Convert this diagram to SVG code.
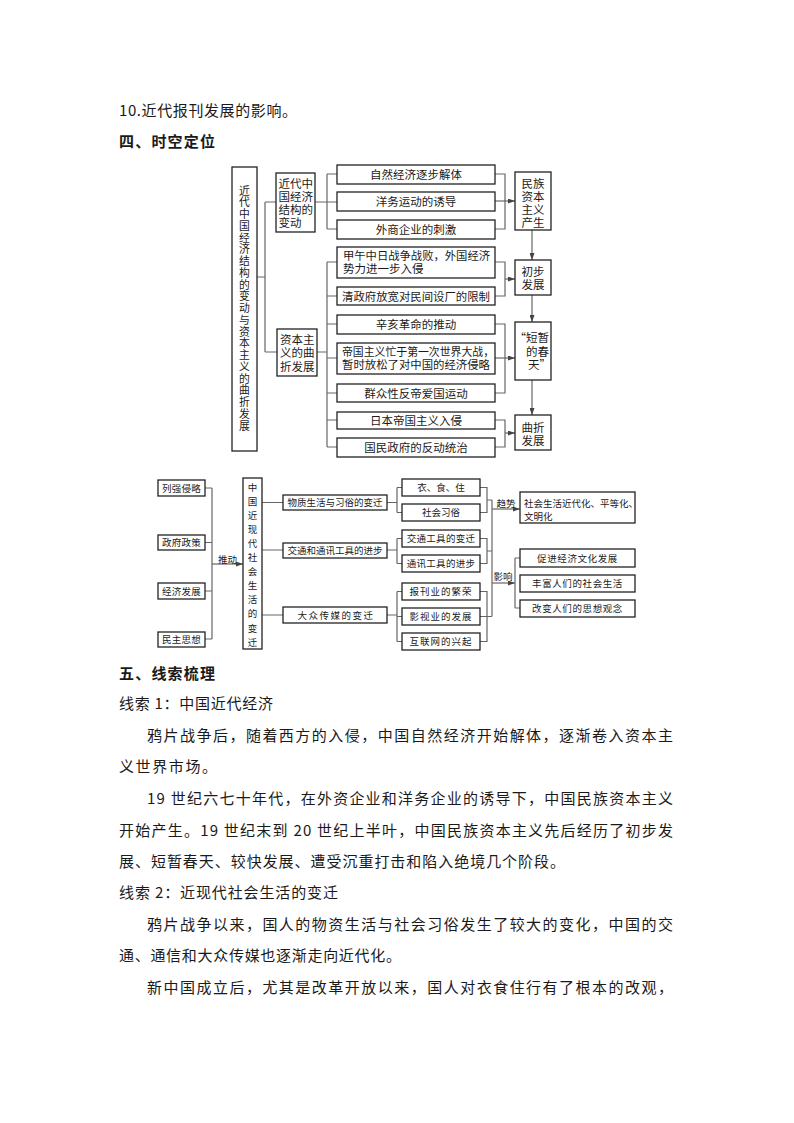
<svg xmlns="http://www.w3.org/2000/svg" width="794" height="1123" viewBox="0 0 794 1123">
<defs>
<style>
.t{font-family:"Noto Sans CJK SC","Noto Sans",sans-serif;fill:#1a1a1a}
.body{font-size:15px}
.h{font-size:15px;font-weight:bold}
.d1{font-size:11.5px}
.dv{font-size:10.8px}
.d2{font-size:9.5px}
.c{text-anchor:middle}
.e{text-anchor:end}
.bx{fill:#fff;stroke:#222;stroke-width:1.3}
.ln{fill:none;stroke:#666;stroke-width:1.2}
</style>
<marker id="ah" markerWidth="7" markerHeight="5" refX="7" refY="2.5" orient="auto" markerUnits="userSpaceOnUse">
<path d="M0,0 L7,2.5 L0,5 z" fill="#444"/>
</marker>
</defs>
<rect width="794" height="1123" fill="#fff"/>

<!-- heading text -->
<text class="t body" x="119" y="116" textLength="178" lengthAdjust="spacing">10.近代报刊发展的影响。</text>
<text class="t h" x="119" y="147" textLength="96" lengthAdjust="spacing">四、时空定位</text>

<!-- ========== Diagram 1 ========== -->
<g id="connectors1">
<path class="ln" d="M257,277 H265 M265,202 V352 M265,202 H276 M265,352 H277"/>
<path class="ln" d="M315,202 H327 M327,174 V229 M327,174 H337 M327,202 H337 M327,229 H337"/>
<path class="ln" d="M317,352 H327 M327,262 V447 M327,262 H337 M327,296 H337 M327,324 H337 M327,358 H337 M327,393 H337 M327,420 H337 M327,447 H337"/>
<path class="ln" d="M495,174 H505 V229 H495"/>
<line class="ln" x1="495" y1="201" x2="515" y2="201" marker-end="url(#ah)"/>
<path class="ln" d="M495,262 H505 V296 H495"/>
<line class="ln" x1="505" y1="279" x2="515" y2="279" marker-end="url(#ah)"/>
<path class="ln" d="M495,324 H505 V393 H495"/>
<line class="ln" x1="495" y1="358" x2="515" y2="358" marker-end="url(#ah)"/>
<path class="ln" d="M495,420 H505 V447 H495"/>
<line class="ln" x1="505" y1="433" x2="515" y2="433" marker-end="url(#ah)"/>
<line class="ln" x1="532" y1="230" x2="532" y2="260" marker-end="url(#ah)"/>
<line class="ln" x1="532" y1="295" x2="532" y2="322" marker-end="url(#ah)"/>
<line class="ln" x1="532" y1="380" x2="532" y2="415" marker-end="url(#ah)"/>
</g>

<g id="n-main">
<rect class="bx" x="232" y="167" width="25" height="284"/>
<g class="t dv c">
<text x="244.5" y="194.5">近</text><text x="244.5" y="206.3">代</text><text x="244.5" y="218">中</text><text x="244.5" y="229.8">国</text><text x="244.5" y="241.5">经</text><text x="244.5" y="253.3">济</text><text x="244.5" y="265">结</text><text x="244.5" y="276.8">构</text><text x="244.5" y="288.5">的</text><text x="244.5" y="300.3">变</text><text x="244.5" y="312">动</text><text x="244.5" y="323.8">与</text><text x="244.5" y="335.5">资</text><text x="244.5" y="347.3">本</text><text x="244.5" y="359">主</text><text x="244.5" y="370.8">义</text><text x="244.5" y="382.5">的</text><text x="244.5" y="394.3">曲</text><text x="244.5" y="406">折</text><text x="244.5" y="417.8">发</text><text x="244.5" y="429.5">展</text>
</g>
</g>

<g id="n-jiegou">
<rect class="bx" x="276" y="173" width="39" height="59"/>
<g class="t d1"><text x="278.5" y="188">近代中</text><text x="278.5" y="201">国经济</text><text x="278.5" y="214">结构的</text><text x="278.5" y="227">变动</text></g>
</g>
<g id="n-quzhe">
<rect class="bx" x="277" y="329" width="40" height="47"/>
<g class="t d1"><text x="280" y="343.5">资本主</text><text x="280" y="357">义的曲</text><text x="280" y="370.5">折发展</text></g>
</g>

<g id="n-a1"><rect class="bx" x="337" y="165" width="158" height="19"/><text class="t d1 c" x="416" y="178.5">自然经济逐步解体</text></g>
<g id="n-a2"><rect class="bx" x="337" y="192" width="158" height="19"/><text class="t d1 c" x="416" y="205.5">洋务运动的诱导</text></g>
<g id="n-a3"><rect class="bx" x="337" y="220" width="158" height="19"/><text class="t d1 c" x="416" y="233.5">外商企业的刺激</text></g>
<g id="n-b1"><rect class="bx" x="337" y="247" width="158" height="31"/><text class="t d1" x="343" y="260" textLength="147" lengthAdjust="spacingAndGlyphs">甲午中日战争战败，外国经济</text><text class="t d1" x="343" y="273">势力进一步入侵</text></g>
<g id="n-b2"><rect class="bx" x="337" y="287" width="158" height="18"/><text class="t d1 c" x="416" y="300.5" textLength="148" lengthAdjust="spacingAndGlyphs">清政府放宽对民间设厂的限制</text></g>
<g id="n-c1"><rect class="bx" x="337" y="315" width="158" height="19"/><text class="t d1 c" x="416" y="328.5">辛亥革命的推动</text></g>
<g id="n-c2"><rect class="bx" x="337" y="343" width="158" height="31"/><text class="t d1" x="342" y="355.5" textLength="152" lengthAdjust="spacingAndGlyphs">帝国主义忙于第一次世界大战，</text><text class="t d1" x="342" y="369" textLength="148" lengthAdjust="spacingAndGlyphs">暂时放松了对中国的经济侵略</text></g>
<g id="n-c3"><rect class="bx" x="337" y="384" width="158" height="18"/><text class="t d1 c" x="416" y="397.5">群众性反帝爱国运动</text></g>
<g id="n-d1"><rect class="bx" x="337" y="412" width="158" height="17"/><text class="t d1 c" x="416" y="424.5">日本帝国主义入侵</text></g>
<g id="n-d2"><rect class="bx" x="337" y="438" width="158" height="19"/><text class="t d1 c" x="416" y="451.5">国民政府的反动统治</text></g>

<g id="n-r1"><rect class="bx" x="515" y="172" width="36" height="58"/><g class="t d1 c"><text x="533" y="188">民族</text><text x="533" y="201">资本</text><text x="533" y="214">主义</text><text x="533" y="227">产生</text></g></g>
<g id="n-r2"><rect class="bx" x="515" y="260" width="36" height="35"/><g class="t d1 c"><text x="533" y="276">初步</text><text x="533" y="289">发展</text></g></g>
<g id="n-r3"><rect class="bx" x="515" y="322" width="36" height="58"/><g class="t d1 e"><text x="549" y="342">“短暂</text><text x="549" y="356">的春</text><text x="551" y="369">天”</text></g></g>
<g id="n-r4"><rect class="bx" x="515" y="415" width="36" height="35"/><g class="t d1 c"><text x="533" y="432">曲折</text><text x="533" y="445">发展</text></g></g>

<!-- ========== Diagram 2 ========== -->
<g id="connectors2">
<path class="ln" d="M205,488 H212 M205,542.5 H212 M205,591 H212 M205,639 H212 M212,488 V639"/>
<line class="ln" x1="212" y1="564" x2="243" y2="564" marker-end="url(#ah)"/>
<path class="ln" d="M262,502.5 H283 M262,550 H283 M262,615 H283"/>
<path class="ln" d="M387,502.5 H397 M397,487.5 V512.5 M397,487.5 H402 M397,512.5 H402"/>
<path class="ln" d="M387,550 H397 M397,538.5 V563.5 M397,538.5 H402 M397,563.5 H402"/>
<path class="ln" d="M387,615 H397 M397,591.5 V641.5 M397,591.5 H402 M397,616.5 H402 M397,641.5 H402"/>
<path class="ln" d="M480,487.5 H487 V512.5 H480 M487,500 H492"/>
<path class="ln" d="M480,538.5 H487 V563.5 H480 M487,551 H492"/>
<path class="ln" d="M480,591.5 H487 V641.5 H480 M480,616.5 H492"/>
<path class="ln" d="M492,500 V616.5"/>
<line class="ln" x1="492" y1="509" x2="520" y2="509" marker-end="url(#ah)"/>
<line class="ln" x1="492" y1="583" x2="515" y2="583" marker-end="url(#ah)"/>
<path class="ln" d="M515,558 V608 M515,558 H520 M515,608 H520"/>
<text class="t d2 c" x="506" y="507">趋势</text>
<text class="t d2 c" x="503" y="580">影响</text>
<text class="t d2 c" x="227.5" y="562.5">推动</text>
</g>

<g id="n-l1"><rect class="bx" x="158" y="480" width="47" height="16"/><text class="t d2 c" x="181.5" y="491.5" letter-spacing="0.3">列强侵略</text></g>
<g id="n-l2"><rect class="bx" x="158" y="535" width="47" height="15"/><text class="t d2 c" x="181.5" y="546" letter-spacing="0.3">政府政策</text></g>
<g id="n-l3"><rect class="bx" x="158" y="583" width="47" height="16"/><text class="t d2 c" x="181.5" y="594.5" letter-spacing="0.3">经济发展</text></g>
<g id="n-l4"><rect class="bx" x="158" y="632" width="47" height="15"/><text class="t d2 c" x="181.5" y="643" letter-spacing="0.3">民主思想</text></g>

<g id="n-v">
<rect class="bx" x="243" y="478" width="19" height="171"/>
<g class="t d2 c">
<text x="252.5" y="490.5">中</text><text x="252.5" y="504.6">国</text><text x="252.5" y="518.7">近</text><text x="252.5" y="532.8">现</text><text x="252.5" y="546.9">代</text><text x="252.5" y="561">社</text><text x="252.5" y="575.1">会</text><text x="252.5" y="589.2">生</text><text x="252.5" y="603.3">活</text><text x="252.5" y="617.4">的</text><text x="252.5" y="631.5">变</text><text x="252.5" y="645.6">迁</text>
</g>
</g>

<g id="n-m1"><rect class="bx" x="283" y="495" width="104" height="15"/><text class="t d2 c" x="335" y="506">物质生活与习俗的变迁</text></g>
<g id="n-m2"><rect class="bx" x="283" y="543" width="104" height="15"/><text class="t d2 c" x="335" y="554">交通和通讯工具的进步</text></g>
<g id="n-m3"><rect class="bx" x="283" y="607" width="104" height="16"/><text class="t d2 c" x="336" y="618.5" letter-spacing="1.5">大众传媒的变迁</text></g>

<g id="n-s1"><rect class="bx" x="402" y="479" width="78" height="17"/><text class="t d2 c" x="441" y="491">衣、食、住</text></g>
<g id="n-s2"><rect class="bx" x="402" y="504" width="78" height="17"/><text class="t d2 c" x="441" y="516">社会习俗</text></g>
<g id="n-s3"><rect class="bx" x="402" y="530" width="78" height="17"/><text class="t d2 c" x="441" y="542" letter-spacing="0.3">交通工具的变迁</text></g>
<g id="n-s4"><rect class="bx" x="402" y="555" width="78" height="17"/><text class="t d2 c" x="441" y="567" letter-spacing="0.3">通讯工具的进步</text></g>
<g id="n-s5"><rect class="bx" x="402" y="583" width="78" height="17"/><text class="t d2 c" x="441" y="595" letter-spacing="1">报刊业的繁荣</text></g>
<g id="n-s6"><rect class="bx" x="402" y="608" width="78" height="17"/><text class="t d2 c" x="441" y="620" letter-spacing="1">影视业的发展</text></g>
<g id="n-s7"><rect class="bx" x="402" y="633" width="78" height="17"/><text class="t d2 c" x="441" y="645" letter-spacing="1">互联网的兴起</text></g>

<g id="n-t1"><rect class="bx" x="520" y="492" width="115" height="31"/><text class="t d2" x="524" y="506.5">社会生活近代化、平等化、</text><text class="t d2" x="524" y="519.5">文明化</text></g>
<g id="n-i1"><rect class="bx" x="520" y="549" width="115" height="18"/><text class="t d2 c" x="577.5" y="561.5" letter-spacing="0.6">促进经济文化发展</text></g>
<g id="n-i2"><rect class="bx" x="520" y="575" width="115" height="17"/><text class="t d2 c" x="577.5" y="587" letter-spacing="0.6">丰富人们的社会生活</text></g>
<g id="n-i3"><rect class="bx" x="520" y="600" width="115" height="17"/><text class="t d2 c" x="577.5" y="612" letter-spacing="0.6">改变人们的思想观念</text></g>

<!-- body text -->
<g class="t body">
<text class="h" x="119" y="679" textLength="96" lengthAdjust="spacing">五、线索梳理</text>
<text x="119" y="709" textLength="154" lengthAdjust="spacing">线索 1：中国近代经济</text>
<text x="147" y="741" textLength="526" lengthAdjust="spacing">鸦片战争后，随着西方的入侵，中国自然经济开始解体，逐渐卷入资本主</text>
<text x="119" y="772" textLength="98" lengthAdjust="spacing">义世界市场。</text>
<text x="147" y="804" textLength="526" lengthAdjust="spacing">19 世纪六七十年代，在外资企业和洋务企业的诱导下，中国民族资本主义</text>
<text x="119" y="836" textLength="554" lengthAdjust="spacing">开始产生。19 世纪末到 20 世纪上半叶，中国民族资本主义先后经历了初步发</text>
<text x="119" y="867" textLength="446" lengthAdjust="spacing">展、短暂春天、较快发展、遭受沉重打击和陷入绝境几个阶段。</text>
<text x="119" y="898" textLength="219" lengthAdjust="spacing">线索 2：近现代社会生活的变迁</text>
<text x="147" y="930" textLength="526" lengthAdjust="spacing">鸦片战争以来，国人的物资生活与社会习俗发生了较大的变化，中国的交</text>
<text x="119" y="961" textLength="282" lengthAdjust="spacing">通、通信和大众传媒也逐渐走向近代化。</text>
<text x="147" y="993" textLength="526" lengthAdjust="spacing">新中国成立后，尤其是改革开放以来，国人对衣食住行有了根本的改观，</text>
</g>
</svg>
